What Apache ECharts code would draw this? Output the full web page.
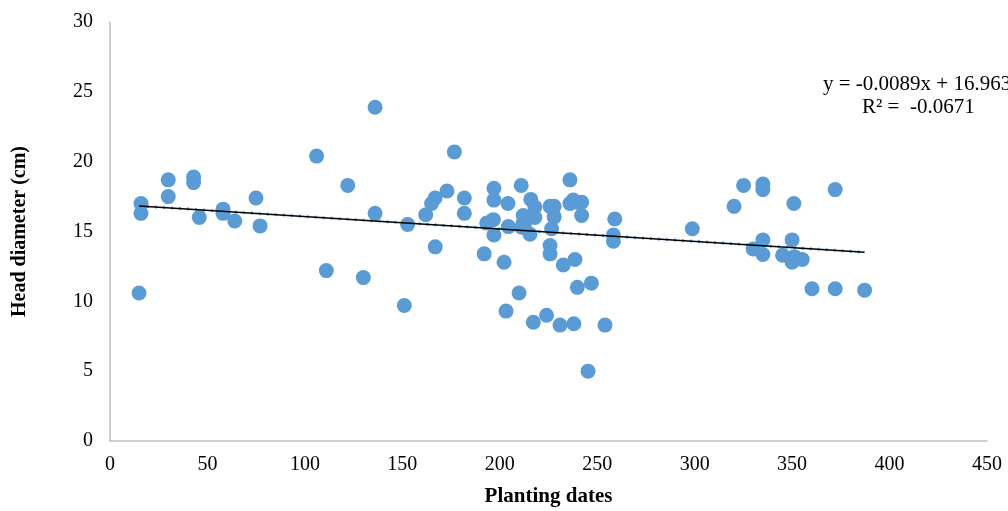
<!DOCTYPE html>
<html>
<head>
<meta charset="utf-8">
<script src="https://cdn.jsdelivr.net/npm/echarts@6/dist/echarts.min.js"></script>
<style>
  html, body { margin: 0; padding: 0; background: #fff; }
  #chart { width: 1008px; height: 511px; }
</style>
</head>
<body>
<div id="chart"></div>
<script>
// Planting date (x) of each observation
const plantingDates = [
  14.9, 15.9, 15.9, 29.9, 29.9, 42.9, 42.9, 45.8, 58.0, 58.0, 64.0, 74.9, 77.0,
  106, 111, 122, 130, 136, 136, 151, 152.7, 162, 165, 166.8, 166.9, 172.9, 176.7,
  181.8, 181.8, 192, 193.3, 196.7, 197, 197, 197, 202.2, 203.2, 204.2, 204.4,
  209.9, 211, 211.2, 212, 212, 212.6, 215.5, 215.9, 217.2, 218, 218, 224,
  226.6, 225.8, 225.8, 225.8, 227.9, 227.9, 230.9, 232.6, 236, 236, 237.7, 239.5,
  242, 242, 238.6, 239.8, 238, 247, 245.3, 254, 259, 258.3, 258.3,
  298.8, 320.2, 325.1, 335, 335, 350.9, 372.1, 335, 350, 330, 335, 345.1, 350,
  351.1, 355.2, 360.2, 372.1, 387.2
];
// Head diameter (cm) of each observation
const headDiameters = [
  10.6, 17.0, 16.3, 18.7, 17.5, 18.9, 18.5, 16.0, 16.6, 16.3, 15.75, 17.4, 15.4,
  20.4, 12.2, 18.3, 11.7, 23.9, 16.3, 9.7, 15.5, 16.2, 17.0, 17.4, 13.9, 17.9, 20.7,
  17.4, 16.3, 13.4, 15.6, 15.85, 18.1, 17.25, 14.75, 12.8, 9.3, 17.0, 15.35,
  10.6, 18.3, 15.3, 16.15, 15.6, 15.5, 14.8, 17.3, 8.5, 16.75, 16.0, 9.0,
  15.2, 14.0, 13.4, 16.8, 16.05, 16.8, 8.3, 12.6, 18.7, 17.0, 17.25, 17.1,
  17.1, 16.15, 13.0, 11.0, 8.4, 11.3, 5.0, 8.3, 15.9, 14.75, 14.3,
  15.2, 16.8, 18.3, 18.4, 18.0, 17.0, 18.0, 14.4, 14.4, 13.75, 13.35, 13.3, 12.8,
  13.2, 13.0, 10.9, 10.9, 10.8
];
// Linear trendline shown on the chart
const trendSlope = -0.0089;
const trendIntercept = 16.963;
const trendText = ['y = -0.0089x + 16.963', 'R\u00b2 =  -0.0671'];
// Axis ticks
const xTicks = [0, 50, 100, 150, 200, 250, 300, 350, 400, 450];
const yTicks = [0, 5, 10, 15, 20, 25, 30];

const points = plantingDates.map((x, i) => [x, headDiameters[i]]);
const xMin = Math.min(...plantingDates), xMax = Math.max(...plantingDates);
const trendPts = [[xMin, trendSlope * xMin + trendIntercept], [xMax, trendSlope * xMax + trendIntercept]];

const FONT = '"Liberation Serif", "Times New Roman", serif';
const chart = echarts.init(document.getElementById('chart'), null, { renderer: 'canvas' });
chart.setOption({
  animation: false,
  backgroundColor: '#ffffff',
  grid: { left: 110, right: 21, top: 22, bottom: 70, containLabel: false, outerBoundsMode: 'none' },
  xAxis: {
    type: 'value', min: xTicks[0], max: xTicks[xTicks.length - 1], interval: 50,
    name: 'Planting dates', nameLocation: 'middle', nameGap: 45,
    nameTextStyle: { fontFamily: FONT, fontSize: 21, fontWeight: 'bold', color: '#000' },
    axisLine: { show: true, lineStyle: { color: '#bfbfbf', width: 1.5 } },
    axisTick: { show: false },
    splitLine: { show: false },
    axisLabel: { fontFamily: FONT, fontSize: 20, color: '#000', margin: 14 }
  },
  yAxis: {
    type: 'value', min: yTicks[0], max: yTicks[yTicks.length - 1], interval: 5,
    name: 'Head diameter (cm)', nameLocation: 'middle', nameGap: 80, nameRotate: 90,
    nameTextStyle: { fontFamily: FONT, fontSize: 20, fontWeight: 'bold', color: '#000' },
    axisLine: { show: true, lineStyle: { color: '#bfbfbf', width: 1.5 } },
    axisTick: { show: false },
    splitLine: { show: false },
    axisLabel: { fontFamily: FONT, fontSize: 20, color: '#000', margin: 17 }
  },
  series: [
    {
      type: 'scatter', data: points, symbol: 'circle', symbolSize: 15,
      itemStyle: { color: '#5b9bd5', opacity: 1 }, z: 2
    },
    {
      type: 'line', data: trendPts, symbol: 'none', silent: true,
      lineStyle: { color: '#5b9bd5', width: 3, type: [2, 6] }, z: 3
    },
    {
      type: 'line', data: trendPts, symbol: 'none', silent: true,
      lineStyle: { color: '#000000', width: 1.6 }, z: 4
    }
  ],
  graphic: [
    { type: 'text', left: 823, top: 74, style: { text: trendText[0], font: '21px ' + FONT, fill: '#000' } },
    { type: 'text', left: 862, top: 97, style: { text: trendText[1], font: '21px ' + FONT, fill: '#000' } }
  ]
});
</script>
</body>
</html>
